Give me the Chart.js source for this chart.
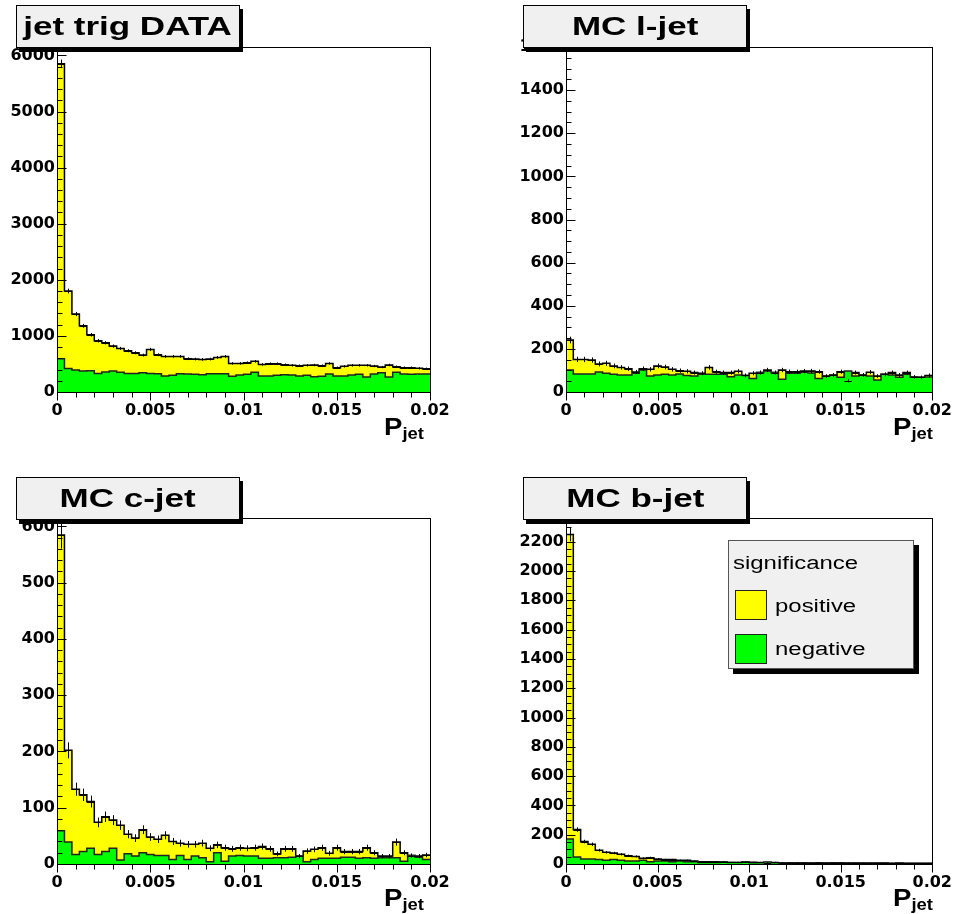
<!DOCTYPE html>
<html lang="en">
<head>
    <meta charset="UTF-8">
    <title>P_jet by significance sign</title>
    <script src="https://cdn.jsdelivr.net/npm/chart.js"></script>
    <style>
        body { margin: 0; background: #fff; }
        #page { position: relative; width: 961px; height: 914px; overflow: hidden; }
        canvas { position: absolute; }
        .title {
            position: absolute; box-sizing: border-box;
            width: 224px; height: 43px;
            background: #f0f0f0; border: 1px solid #000;
            box-shadow: 3px 4px 0 #000;
            text-align: center;
            font: bold 25px "Liberation Sans", Arial, sans-serif;
            line-height: 41px;
        }
        .title span { display: inline-block; transform: scaleX(1.4); }
        .xlab {
            position: absolute;
            font: bold 24px "Liberation Sans", Arial, sans-serif;
            line-height: 24px;
            transform: scaleX(1.15); transform-origin: left center;
        }
        .xlab sub { font-size: 16px; vertical-align: -4px; }
        #legend {
            position: absolute; box-sizing: border-box;
            left: 728px; top: 540px; width: 186px; height: 129px;
            background: #f0f0f0; border: 1px solid #555;
            box-shadow: 5px 5px 0 #000;
            font: 18px "Liberation Sans", Arial, sans-serif;
        }
        #legend .txt {
            position: absolute; line-height: 20px; white-space: nowrap;
            transform: scaleX(1.33); transform-origin: left center;
        }
        #legend .sw {
            position: absolute; left: 6px; width: 32px; height: 30px;
            box-sizing: border-box; border: 1px solid #222;
        }
    </style>
</head>
<body>
<div id="page">
    <canvas id="c1" width="480" height="471" style="left:0;top:0"></canvas>
    <canvas id="c2" width="481" height="471" style="left:480px;top:0"></canvas>
    <canvas id="c3" width="480" height="443" style="left:0;top:471px"></canvas>
    <canvas id="c4" width="481" height="443" style="left:480px;top:471px"></canvas>

    <div class="title" style="left:16px;top:5px"><span>jet trig DATA</span></div>
    <div class="title" style="left:523px;top:5px"><span>MC l-jet</span></div>
    <div class="title" style="left:16px;top:477px"><span>MC c-jet</span></div>
    <div class="title" style="left:523px;top:477px"><span>MC b-jet</span></div>

    <div class="xlab" style="left:384px;top:415px">P<sub>jet</sub></div>
    <div class="xlab" style="left:893px;top:415px">P<sub>jet</sub></div>
    <div class="xlab" style="left:384px;top:886px">P<sub>jet</sub></div>
    <div class="xlab" style="left:893px;top:886px">P<sub>jet</sub></div>

    <div id="legend">
        <div class="txt" style="left:4px;top:12px">significance</div>
        <div class="sw" id="swPos" style="top:49px"></div>
        <div class="txt" style="left:46px;top:55px">positive</div>
        <div class="sw" id="swNeg" style="top:93px"></div>
        <div class="txt" style="left:46px;top:98px">negative</div>
    </div>
</div>

<script>
    // binning of P_jet: 50 bins from 0 to 0.02
    const nBins = 50;
    const xMin = 0;
    const xMax = 0.02;
    const xTicks = [0, 0.005, 0.01, 0.015, 0.02];
    const xMinorStep = 0.001;

    const POS_COLOR = '#ffff00';
    const NEG_COLOR = '#00ff00';

    // jet trig DATA
    const dataPos = [5850, 1800, 1390, 1180, 1020, 913, 877, 818, 777, 735,
                     699, 658, 759, 664, 635, 635, 635, 593, 587, 581,
                     587, 616, 635, 510, 510, 522, 546, 492, 504, 504,
                     487, 475, 469, 475, 481, 469, 510, 434, 457, 475,
                     475, 475, 463, 445, 481, 451, 434, 434, 422, 416];
    const dataNeg = [593, 421, 391, 374, 380, 332, 356, 374, 350, 332,
                     332, 344, 332, 326, 285, 297, 326, 320, 315, 309,
                     326, 326, 326, 279, 303, 315, 350, 285, 285, 297,
                     309, 303, 285, 297, 273, 279, 320, 285, 285, 303,
                     315, 267, 320, 344, 267, 350, 320, 315, 320, 320];
    const dataYTicks = [0, 1000, 2000, 3000, 4000, 5000, 6000];

    // MC l-jet
    const lightPos = [241, 151, 151, 148, 130, 133, 121, 114, 108, 93,
                      108, 105, 121, 116, 105, 99, 96, 90, 87, 114,
                      94, 90, 90, 96, 77, 87, 90, 102, 90, 102,
                      94, 94, 97, 97, 94, 74, 79, 94, 52, 90,
                      79, 92, 74, 82, 90, 79, 90, 70, 68, 77];
    const lightNeg = [102, 83, 83, 83, 93, 87, 82, 79, 79, 87,
                      102, 74, 79, 82, 79, 83, 77, 74, 82, 82,
                      82, 82, 71, 79, 77, 63, 90, 97, 90, 59,
                      87, 87, 92, 88, 63, 74, 79, 68, 97, 74,
                      79, 74, 56, 82, 79, 68, 82, 70, 68, 70];
    const lightYTicks = [0, 200, 400, 600, 800, 1000, 1200, 1400, 1600];

    // MC c-jet
    const charmPos = [585, 202, 133, 123, 111, 74, 84, 78, 69, 53,
                      46, 61, 48, 44, 51, 40, 37, 35, 35, 37,
                      28, 34, 29, 27, 29, 28, 29, 31, 27, 18,
                      27, 27, 14, 23, 26, 29, 19, 29, 22, 22,
                      22, 29, 20, 14, 14, 39, 20, 15, 14, 16];
    const charmNeg = [59, 39, 17, 22, 28, 17, 22, 28, 7, 18,
                      14, 20, 17, 15, 15, 8, 15, 8, 14, 11,
                      4, 20, 5, 14, 15, 14, 14, 10, 10, 11,
                      11, 12, 14, 4, 8, 10, 10, 10, 12, 12,
                      10, 11, 10, 11, 11, 11, 5, 15, 12, 8];
    const charmYTicks = [0, 100, 200, 300, 400, 500, 600];

    // MC b-jet
    const bottomPos = [2250, 235, 153, 135, 94, 80, 75, 66, 57, 52,
                       39, 43, 34, 30, 30, 25, 25, 20, 16, 16,
                       16, 16, 11, 11, 14, 12, 11, 10, 11, 9,
                       9, 8, 8, 7, 8, 7, 9, 8, 7, 6,
                       6, 7, 6, 6, 5, 6, 5, 5, 5, 5];
    const bottomNeg = [171, 48, 34, 34, 30, 25, 30, 25, 20, 20,
                       25, 16, 20, 20, 16, 20, 16, 16, 11, 11,
                       11, 16, 11, 11, 14, 8, 8, 14, 8, 9,
                       6, 7, 6, 7, 5, 7, 6, 7, 5, 6,
                       5, 4, 5, 6, 4, 5, 4, 4, 4, 4];
    const bottomYTicks = [0, 200, 400, 600, 800, 1000, 1200, 1400, 1600, 1800, 2000, 2200];

    const binW = (xMax - xMin) / nBins;

    // histogram as step line: one point per low edge + closing point at xMax
    function toSteps(vals) {
        const pts = vals.map((v, i) => ({ x: xMin + i * binW, y: v }));
        pts.push({ x: xMax, y: vals[vals.length - 1] });
        return pts;
    }

    // ROOT-like frame, inner y ticks, lower x ticks, sqrt(N) error bars
    const rootFrame = {
        id: 'rootFrame',
        afterDatasetsDraw(chart, args, opts) {
            const { ctx, chartArea: a, scales: { x, y } } = chart;
            ctx.save();
            ctx.strokeStyle = '#000';
            ctx.lineWidth = 1;

            // error bars of the positive histogram
            ctx.beginPath();
            opts.errVals.forEach((v, i) => {
                const x0 = x.getPixelForValue(xMin + i * binW);
                const x1 = x.getPixelForValue(xMin + (i + 1) * binW);
                const xc = Math.round((x0 + x1) / 2) + 0.5;
                const e = Math.sqrt(v);
                const yv = Math.round(y.getPixelForValue(v)) + 0.5;
                ctx.moveTo(xc, y.getPixelForValue(v - e));
                ctx.lineTo(xc, y.getPixelForValue(Math.min(v + e, y.max)));
                ctx.moveTo(x0, yv);
                ctx.lineTo(x1, yv);
            });
            ctx.stroke();

            // y: major + minor ticks pointing into the frame
            ctx.beginPath();
            const L = Math.round(a.left) + 0.5;
            const B = Math.round(a.bottom) + 0.5;
            for (let k = 0; k * opts.yMinor <= y.max + 1e-9; k++) {
                const py = Math.round(y.getPixelForValue(k * opts.yMinor)) + 0.5;
                const len = k % opts.yPer === 0 ? 9 : 5;
                ctx.moveTo(L, py);
                ctx.lineTo(L + len, py);
            }
            // x: ticks below the axis
            const nx = Math.round((xMax - xMin) / xMinorStep);
            const per = Math.round((xTicks[1] - xTicks[0]) / xMinorStep);
            for (let k = 0; k <= nx; k++) {
                const px = Math.round(x.getPixelForValue(xMin + k * xMinorStep)) + 0.5;
                const len = k % per === 0 ? 8 : 5;
                ctx.moveTo(px, B);
                ctx.lineTo(px, B + len);
            }
            ctx.stroke();
            ctx.strokeRect(L, Math.round(a.top) + 0.5,
                Math.round(a.right - a.left), Math.round(a.bottom - a.top));
            ctx.restore();
        }
    };

    Chart.defaults.font.family = '"DejaVu Sans", sans-serif';
    Chart.defaults.color = '#000';

    function makePanel(id, pos, neg, yMax, yTicks, yMinor, area) {
        const canvas = document.getElementById(id);
        const W = canvas.width, H = canvas.height;
        const yStep = yTicks[1] - yTicks[0];
        new Chart(canvas, {
            type: 'line',
            data: {
                datasets: [
                    {
                        label: 'negative',
                        data: toSteps(neg),
                        stepped: 'before',
                        fill: 'origin',
                        backgroundColor: NEG_COLOR,
                        borderColor: '#222',
                        borderWidth: 1.5,
                        pointRadius: 0,
                        order: 1
                    },
                    {
                        label: 'positive',
                        data: toSteps(pos),
                        stepped: 'before',
                        fill: 'origin',
                        backgroundColor: POS_COLOR,
                        borderColor: '#000',
                        borderWidth: 1.5,
                        pointRadius: 0,
                        order: 2
                    }
                ]
            },
            options: {
                responsive: false,
                animation: false,
                events: [],
                layout: { padding: { left: 0, top: area.top, right: W - area.right, bottom: 0 } },
                plugins: {
                    legend: { display: false },
                    tooltip: { enabled: false },
                    rootFrame: { errVals: pos, yMinor: yMinor, yPer: Math.round(yStep / yMinor) }
                },
                scales: {
                    x: {
                        type: 'linear',
                        min: xMin,
                        max: xMax,
                        grid: { display: false, drawTicks: false },
                        border: { display: false },
                        afterBuildTicks: s => { s.ticks = xTicks.map(v => ({ value: v })); },
                        ticks: {
                            padding: 9,
                            maxRotation: 0,
                            autoSkip: false,
                            font: { size: 16, weight: 'bold' },
                            callback: v => String(+v.toFixed(3))
                        },
                        afterFit: s => { s.height = H - area.bottom; }
                    },
                    y: {
                        min: 0,
                        max: yMax,
                        grid: { display: false, drawTicks: false },
                        border: { display: false },
                        afterBuildTicks: s => { s.ticks = yTicks.map(v => ({ value: v })); },
                        ticks: {
                            padding: 2,
                            autoSkip: false,
                            font: { size: 16, weight: 'bold' },
                            callback: v => String(v)
                        },
                        afterFit: s => { s.width = area.left; }
                    }
                }
            },
            plugins: [rootFrame]
        });
    }

    makePanel('c1', dataPos, dataNeg, 6150, dataYTicks, 200, { left: 57, top: 47, right: 430, bottom: 392 });
    makePanel('c2', lightPos, lightNeg, 1600, lightYTicks, 50, { left: 86, top: 47, right: 457, bottom: 392 });
    makePanel('c3', charmPos, charmNeg, 615, charmYTicks, 20, { left: 57, top: 47, right: 430, bottom: 393 });
    makePanel('c4', bottomPos, bottomNeg, 2362, bottomYTicks, 50, { left: 86, top: 47, right: 457, bottom: 393 });

    document.getElementById('swPos').style.background = POS_COLOR;
    document.getElementById('swNeg').style.background = NEG_COLOR;
</script>
</body>
</html>
